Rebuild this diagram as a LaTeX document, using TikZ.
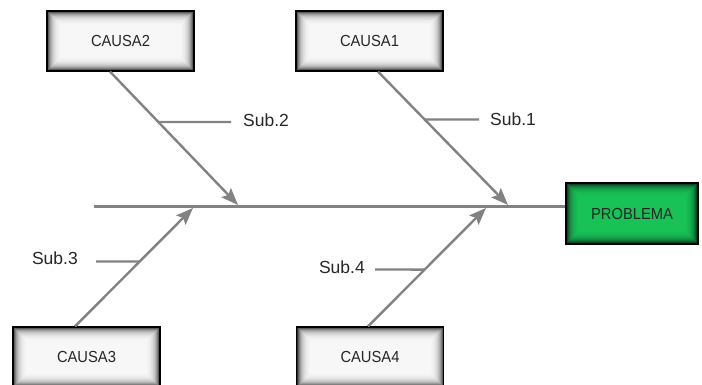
\documentclass[tikz,border=0pt]{standalone}
\usepackage{fontspec}
\setmainfont{Liberation Sans}
\newfontfamily\boxfont[FakeStretch=0.92]{Liberation Sans}
\usetikzlibrary{arrows.meta,calc}

\definecolor{branchgray}{RGB}{130,130,130}
\definecolor{probgreen}{RGB}{25,200,90}

\tikzset{
  % box with dark edges fading towards a light centre
  innershade/.style={path picture={
    \foreach \i in {0,...,13}{
      \pgfmathsetmacro\c{82*0.78^\i}
      \fill[black!\c!#1]
        ([xshift=\i pt,yshift=-\i pt]path picture bounding box.north west)
        rectangle
        ([xshift=-\i pt,yshift=\i pt]path picture bounding box.south east);
    }}},
  causebox/.style={draw=black, line width=1.2pt, minimum width=147pt,
    minimum height=60pt, inner sep=0pt, innershade=white,
    font=\boxfont\fontsize{16}{19}\selectfont, text=black!85},
  probbox/.style={causebox, minimum width=132pt, minimum height=61pt,
    innershade=probgreen},
  branch/.style={draw=branchgray, line width=2.4pt},
  causearrow/.style={branch, -{Stealth[length=17pt,width=13pt,inset=3pt]}},
  sublabel/.style={font=\fontsize{17.5}{20}\selectfont, text=black!85,
    inner sep=0pt},
}

\begin{document}
\begin{tikzpicture}[x=1pt,y=-1pt]
  \useasboundingbox (0,0) rectangle (702,385);
  \fill[white] (0,0) rectangle (702,385);

  % boxes
  \node[causebox] (c2) at (120.5,41) {CAUSA2};
  \node[causebox] (c1) at (369.5,41) {CAUSA1};
  \node[causebox] (c3) at (86.5,357) {CAUSA3};
  \node[causebox] (c4) at (370,357) {CAUSA4};
  \node[probbox]  (p)  at (632,213.5) {PROBLEMA};

  % spine
  \coordinate (s0) at (94,206.5);
  \draw[branch] (s0) -- (s0 -| p.west);

  % arrow tips on the spine
  \coordinate (t2) at (238,205);
  \coordinate (t1) at (508,205);
  \coordinate (t3) at (193,208);
  \coordinate (t4) at (486,208);

  % start points on the boxes
  \coordinate (a2) at ([xshift=-10.5pt]c2.south);
  \coordinate (a1) at ([xshift=8.5pt]c1.south);
  \coordinate (a3) at ([xshift=-11.5pt]c3.north);
  \coordinate (a4) at ([xshift=-2pt]c4.north);

  \draw[causearrow] (a2) -- (t2);
  \draw[causearrow] (a1) -- (t1);
  \draw[causearrow] (a3) -- (t3);
  \draw[causearrow] (a4) -- (t4);

  % sub-cause labels
  \node[sublabel, anchor=west] (s2) at (243,120.5) {Sub.2};
  \node[sublabel, anchor=west] (s1) at (490,119) {Sub.1};
  \node[sublabel, anchor=east] (s3) at (78,258) {Sub.3};
  \node[sublabel, anchor=east] (s4) at (365,267) {Sub.4};

  % sub-cause branches
  \coordinate (j2) at ($(a2)!0.378!(t2)$);
  \coordinate (k2) at (231,122);
  \coordinate (j1) at ($(a1)!0.359!(t1)$);
  \coordinate (k1) at (479,119.5);
  \coordinate (j3) at ($(a3)!0.548!(t3)$);
  \coordinate (k3) at (96,261.5);
  \coordinate (j4) at ($(a4)!0.48!(t4)$);
  \coordinate (k4) at (375,269.5);

  \draw[branch] (j2) -- (k2);
  \draw[branch] (j1) -- (k1);
  \draw[branch] (j3) -- (k3);
  \draw[branch] (j4) -- (k4);
\end{tikzpicture}
\end{document}
